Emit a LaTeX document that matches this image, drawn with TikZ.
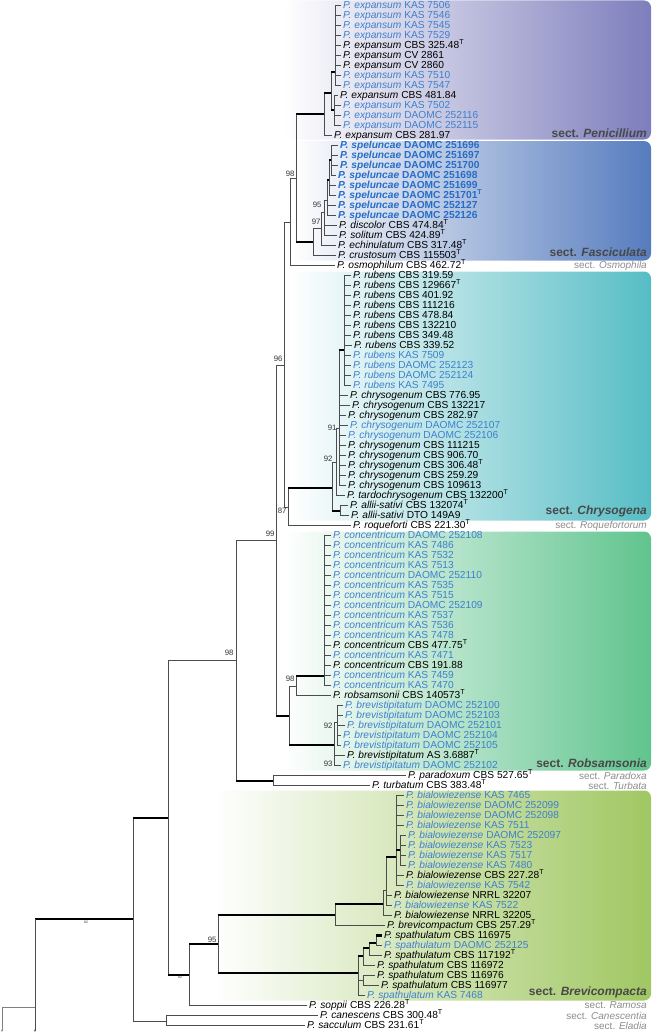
\documentclass[tikz,border=0pt]{standalone}
\usepackage{fontspec}
\setmainfont{Liberation Sans}
\usetikzlibrary{arrows.meta, calc}
\definecolor{isoblue}{RGB}{62,128,206}
\definecolor{spelblue}{RGB}{38,108,200}
\definecolor{sectgray}{RGB}{140,140,140}
\definecolor{secttext}{RGB}{72,72,72}
\definecolor{penicol}{RGB}{125,126,188}
\definecolor{fascol}{RGB}{86,124,190}
\definecolor{chrycol}{RGB}{86,189,197}
\definecolor{robcol}{RGB}{96,196,142}
\definecolor{brevcol}{RGB}{160,199,98}
\newcommand\T{\textsuperscript{T}}
\tikzset{
  every picture/.style={line join=round},
  taxon/.style={anchor=west, inner xsep=2pt, inner ysep=0pt, text height=7.4pt, text depth=1.6pt,
    font=\fontsize{10.2}{12}\selectfont},
  refstrain/.style={taxon, black},
  isolate/.style={taxon, isoblue},
  boldisolate/.style={taxon, spelblue, font=\fontsize{10.2}{12}\selectfont\bfseries},
  thinbr/.style={line width=0.8pt, black!70},
  thickbr/.style={line width=2.4pt, black},
  vline/.style={line width=0.8pt, black!70},
  supp/.style={anchor=east, inner sep=0.3pt, font=\fontsize{7.8}{9}\selectfont, black!80},
  tinysupp/.style={inner sep=0pt, font=\fontsize{3.5}{4}\selectfont, black!80},
  sectbox/.style={rounded corners=7pt, left color=white, right color=#1},
  sectname/.style={anchor=east, inner sep=0pt, font=\fontsize{12}{14}\selectfont\bfseries, secttext},
  sectminor/.style={anchor=east, inner sep=0pt, font=\fontsize{10}{12}\selectfont, sectgray},
}
% vertical part of the parent, then the horizontal branch to the child
\newcommand\drawbranch[3][thinbr]{%
  \draw[vline] (#2) -- (#2|-#3);
  \draw[#1] (#2|-#3) -- (#3);}

\begin{document}
\begin{tikzpicture}[x=1pt, y=-1pt]
  \useasboundingbox (0,0) rectangle (654,1033);
  % section backgrounds
  \shade[sectbox=penicol] (284,0.5) rectangle (651,139.5);
  \shade[sectbox=fascol] (292,141) rectangle (651,260.5);
  \shade[sectbox=chrycol] (290,271.5) rectangle (651,520.5);
  \shade[sectbox=robcol] (283,531.5) rectangle (651,770.5);
  \shade[sectbox=brevcol] (213,790.5) rectangle (651,1000.5);

  % taxa, one row every 10 units
  \foreach \k/\x/\st/\acc in {0/343/isolate/KAS 7506, 1/343/isolate/KAS 7546, 2/343/isolate/KAS 7545,
      3/343/isolate/KAS 7529, 4/343/refstrain/CBS 325.48\T, 5/343/refstrain/CV 2861,
      6/343/refstrain/CV 2860, 7/343/isolate/KAS 7510, 8/343/isolate/KAS 7547,
      9/340/refstrain/CBS 481.84, 10/343/isolate/KAS 7502, 11/343/isolate/DAOMC 252116,
      12/343/isolate/DAOMC 252115, 13/334/refstrain/CBS 281.97}
    \node[\st] (t\k) at (\x-2, 5.5+10*\k) {\textit{P. expansum} \acc};
  \foreach \k/\x/\st/\sp/\acc in {14/340/boldisolate/speluncae/DAOMC 251696,
      15/340/boldisolate/speluncae/DAOMC 251697, 16/340/boldisolate/speluncae/DAOMC 251700,
      17/338/boldisolate/speluncae/DAOMC 251698, 18/338/boldisolate/speluncae/DAOMC 251699,
      19/338/boldisolate/speluncae/DAOMC 251701\T, 20/338/boldisolate/speluncae/DAOMC 252127,
      21/338/boldisolate/speluncae/DAOMC 252126, 22/339/refstrain/discolor/CBS 474.84\T,
      23/339/refstrain/solitum/CBS 424.89\T, 24/338/refstrain/echinulatum/CBS 317.48\T,
      25/338/refstrain/crustosum/CBS 115503\T, 26/337/refstrain/osmophilum/CBS 462.72\T}
    \node[\st] (t\k) at (\x-2, 5.5+10*\k) {\textit{P. \sp} \acc};
  \foreach \k/\x/\st/\sp/\acc in {27/353/refstrain/rubens/CBS 319.59,
      28/353/refstrain/rubens/CBS 129667\T, 29/353/refstrain/rubens/CBS 401.92,
      30/353/refstrain/rubens/CBS 111216, 31/353/refstrain/rubens/CBS 478.84,
      32/353/refstrain/rubens/CBS 132210, 33/353/refstrain/rubens/CBS 349.48,
      34/354/refstrain/rubens/CBS 339.52, 35/353/isolate/rubens/KAS 7509,
      36/353/isolate/rubens/DAOMC 252123, 37/353/isolate/rubens/DAOMC 252124,
      38/353/isolate/rubens/KAS 7495, 39/350/refstrain/chrysogenum/CBS 776.95,
      40/352/refstrain/chrysogenum/CBS 132217, 41/348/refstrain/chrysogenum/CBS 282.97,
      42/350/isolate/chrysogenum/DAOMC 252107, 43/348/isolate/chrysogenum/DAOMC 252106,
      44/348/refstrain/chrysogenum/CBS 111215, 45/348/refstrain/chrysogenum/CBS 906.70,
      46/348/refstrain/chrysogenum/CBS 306.48\T, 47/348/refstrain/chrysogenum/CBS 259.29,
      48/348/refstrain/chrysogenum/CBS 109613, 49/347/refstrain/tardochrysogenum/CBS 132200\T,
      50/350/refstrain/allii-sativi/CBS 132074\T, 51/351/refstrain/allii-sativi/DTO 149A9,
      52/353/refstrain/roqueforti/CBS 221.30\T}
    \node[\st] (t\k) at (\x-2, 5.5+10*\k) {\textit{P. \sp} \acc};
  \foreach \k/\x/\st/\sp/\acc in {53/333/isolate/concentricum/DAOMC 252108,
      54/333/isolate/concentricum/KAS 7486, 55/333/isolate/concentricum/KAS 7532,
      56/333/isolate/concentricum/KAS 7513, 57/333/isolate/concentricum/DAOMC 252110,
      58/333/isolate/concentricum/KAS 7535, 59/333/isolate/concentricum/KAS 7515,
      60/333/isolate/concentricum/DAOMC 252109, 61/333/isolate/concentricum/KAS 7537,
      62/333/isolate/concentricum/KAS 7536, 63/333/isolate/concentricum/KAS 7478,
      64/333/refstrain/concentricum/CBS 477.75\T, 65/333/isolate/concentricum/KAS 7471,
      66/333/refstrain/concentricum/CBS 191.88, 67/333/isolate/concentricum/KAS 7459,
      68/333/isolate/concentricum/KAS 7470, 69/333/refstrain/robsamsonii/CBS 140573\T,
      70/345/isolate/brevistipitatum/DAOMC 252100, 71/345/isolate/brevistipitatum/DAOMC 252103,
      72/347/isolate/brevistipitatum/DAOMC 252101, 73/343/isolate/brevistipitatum/DAOMC 252104,
      74/343/isolate/brevistipitatum/DAOMC 252105, 75/347/refstrain/brevistipitatum/AS 3.6887\T,
      76/343/isolate/brevistipitatum/DAOMC 252102, 77/408/refstrain/paradoxum/CBS 527.65\T,
      78/372/refstrain/turbatum/CBS 383.48\T}
    \node[\st] (t\k) at (\x-2, 5.5+10*\k) {\textit{P. \sp} \acc};
  \foreach \k/\x/\st/\sp/\acc in {79/406/isolate/bialowiezense/KAS 7465,
      80/406/isolate/bialowiezense/DAOMC 252099, 81/406/isolate/bialowiezense/DAOMC 252098,
      82/406/isolate/bialowiezense/KAS 7511, 83/408/isolate/bialowiezense/DAOMC 252097,
      84/408/isolate/bialowiezense/KAS 7523, 85/408/isolate/bialowiezense/KAS 7517,
      86/408/isolate/bialowiezense/KAS 7480, 87/406/refstrain/bialowiezense/CBS 227.28\T,
      88/406/isolate/bialowiezense/KAS 7542, 89/394/refstrain/bialowiezense/NRRL 32207,
      90/394/isolate/bialowiezense/KAS 7522, 91/394/refstrain/bialowiezense/NRRL 32205,
      92/387/refstrain/brevicompactum/CBS 257.29\T, 93/384/refstrain/spathulatum/CBS 116975,
      94/384/isolate/spathulatum/DAOMC 252125, 95/384/refstrain/spathulatum/CBS 117192\T,
      96/377/refstrain/spathulatum/CBS 116972, 97/377/refstrain/spathulatum/CBS 116976,
      98/381/refstrain/spathulatum/CBS 116977, 99/367/isolate/spathulatum/KAS 7468,
      100/309/refstrain/soppii/CBS 226.28\T, 101/320/refstrain/canescens/CBS 300.48\T,
      102/307/refstrain/sacculum/CBS 231.61\T}
    \node[\st] (t\k) at (\x-2, 5.5+10*\k) {\textit{P. \sp} \acc};

  % internal nodes (x, stem height)
  \coordinate (penA) at (335,72);  \coordinate (penB) at (334,110);
  \coordinate (penC) at (331,93);  \coordinate (penD) at (324,114);
  \coordinate (sp1) at (331,160);  \coordinate (sp2) at (329,180);
  \coordinate (sp3) at (327,200);  \coordinate (fas3) at (324,212);
  \coordinate (fas2) at (321,228); \coordinate (fas1) at (313,242);
  \coordinate (nB) at (296,178);   \coordinate (nA) at (290,222);
  \coordinate (nC) at (284,365);   \coordinate (nF) at (288,507);
  \coordinate (rub) at (344,350);  \coordinate (ch2) at (339,428);
  \coordinate (ch1) at (336,462);  \coordinate (alli) at (340,511);
  \coordinate (ch0) at (332,488);
  \coordinate (con) at (324,676);  \coordinate (rb2) at (296,686);
  \coordinate (br1) at (337,722);  \coordinate (br0) at (334,745);
  \coordinate (rb1) at (289,716);  \coordinate (nD) at (276,540);
  \coordinate (par) at (273,781);  \coordinate (nE) at (236,660);
  \coordinate (bi1) at (400,850);  \coordinate (bi0) at (396,857);
  \coordinate (bi2) at (386,890);  \coordinate (bi3) at (383,904);
  \coordinate (bc) at (335,915);
  \coordinate (s3) at (376,943);   \coordinate (s2) at (369,948);
  \coordinate (s1) at (363,956);   \coordinate (s4) at (363,980);
  \coordinate (s0) at (358,973);
  \coordinate (b95) at (218,944);  \coordinate (b0) at (189,975);
  \coordinate (nG) at (168,818);   \coordinate (cs) at (166,1021);
  \coordinate (nH) at (133,919);   \coordinate (root) at (35,919);
  \coordinate (rootend) at (35,1032);
  \coordinate (og) at (35,1007);   \coordinate (ogend) at (2,1032);

  % sect. Penicillium
  \foreach \k in {0,...,8} {\drawbranch{penA}{t\k}}
  \foreach \k in {9,...,12} {\drawbranch{penB}{t\k}}
  \drawbranch[thickbr]{penC}{penA} \drawbranch[thickbr]{penC}{penB}
  \drawbranch[thickbr]{penD}{penC} \drawbranch{penD}{t13}
  % sect. Fasciculata and Osmophila
  \foreach \k in {14,...,17} {\drawbranch{sp1}{t\k}}
  \drawbranch[thickbr]{sp2}{sp1} \drawbranch{sp2}{t18} \drawbranch{sp2}{t19}
  \drawbranch[thickbr]{sp3}{sp2} \drawbranch{sp3}{t20} \drawbranch{sp3}{t21}
  \drawbranch{fas3}{sp3} \drawbranch{fas3}{t22} \drawbranch{fas3}{t23}
  \drawbranch{fas2}{fas3} \drawbranch{fas2}{t24}
  \drawbranch{fas1}{fas2} \drawbranch{fas1}{t25}
  \drawbranch[thickbr]{nB}{penD} \drawbranch[thickbr]{nB}{fas1}
  \drawbranch{nA}{nB} \drawbranch{nA}{t26}
  % sect. Chrysogena and Roquefortorum
  \foreach \k in {27,...,38} {\drawbranch{rub}{t\k}}
  \drawbranch[thickbr]{ch2}{rub}
  \foreach \k in {39,...,48} {\drawbranch{ch2}{t\k}}
  \drawbranch{ch1}{ch2} \drawbranch{ch1}{t49}
  \drawbranch{alli}{t50} \drawbranch{alli}{t51}
  \drawbranch{ch0}{ch1} \drawbranch[thickbr]{ch0}{alli}
  \drawbranch[thickbr]{nF}{ch0} \drawbranch{nF}{t52}
  \drawbranch{nC}{nA} \drawbranch{nC}{nF}
  % sect. Robsamsonia
  \foreach \k in {53,...,68} {\drawbranch{con}{t\k}}
  \drawbranch[thickbr]{rb2}{con} \drawbranch{rb2}{t69}
  \foreach \k in {70,...,74} {\drawbranch{br1}{t\k}}
  \drawbranch{br0}{br1} \drawbranch{br0}{t75} \drawbranch{br0}{t76}
  \drawbranch{rb1}{rb2} \drawbranch[thickbr]{rb1}{br0}
  \drawbranch{nD}{nC} \drawbranch[thickbr]{nD}{rb1}
  % sect. Paradoxa and Turbata
  \drawbranch{par}{t77} \drawbranch{par}{t78}
  \drawbranch{nE}{nD} \drawbranch[thickbr]{nE}{par}
  % sect. Brevicompacta
  \foreach \k in {83,...,86} {\drawbranch{bi1}{t\k}}
  \foreach \k in {79,...,82,87,88} {\drawbranch{bi0}{t\k}}
  \drawbranch[thickbr]{bi0}{bi1}
  \drawbranch[thickbr]{bi2}{bi0} \drawbranch{bi2}{t89} \drawbranch{bi2}{t90}
  \drawbranch{bi3}{bi2} \drawbranch{bi3}{t91}
  \drawbranch[thickbr]{bc}{bi3} \drawbranch{bc}{t92}
  \drawbranch[thickbr]{s3}{t93} \drawbranch{s3}{t94}
  \drawbranch[thickbr]{s2}{s3} \drawbranch{s2}{t95}
  \drawbranch[thickbr]{s1}{s2} \drawbranch{s1}{t96}
  \drawbranch{s4}{t97} \drawbranch{s4}{t98}
  \drawbranch[thickbr]{s0}{s1} \drawbranch{s0}{s4} \drawbranch{s0}{t99}
  \drawbranch[thickbr]{b95}{bc} \drawbranch[thickbr]{b95}{s0}
  \drawbranch[thickbr]{b0}{b95} \drawbranch{b0}{t100}
  % backbone and outgroups
  \drawbranch{nG}{nE} \drawbranch[thickbr]{nG}{b0}
  \drawbranch{cs}{t101} \drawbranch{cs}{t102}
  \drawbranch[thickbr]{nH}{nG} \drawbranch{nH}{cs}
  \draw[thickbr] (root) -- (nH);
  \draw[vline, -{Stealth[length=2.5pt, width=2pt]}] (root) -- (rootend);
  \draw[vline, gray, -{Stealth[length=2.5pt, width=2pt]}] (og) -| (ogend);

  % bootstrap values
  \node[supp] (bs1) at (295,174) {98};
  \node[supp] (bs2) at (322,205) {95};
  \node[supp] (bs3) at (321,222) {97};
  \node[supp] (bs4) at (283,359) {96};
  \node[supp] (bs5) at (337,428) {91};
  \node[supp] (bs6) at (333,459) {92};
  \node[supp] (bs7) at (287,511) {87};
  \node[supp] (bs8) at (275,534) {99};
  \node[supp] (bs9) at (295,679) {98};
  \node[supp] (bs10) at (333,726) {92};
  \node[supp] (bs11) at (333,764) {93};
  \node[supp] (bs12) at (234,653) {98};
  \node[supp] (bs13) at (217,940) {95};
  \node[tinysupp] (bs14) at (86,922) {82};
  \node[tinysupp] (bs15) at (180,977) {82};

  % section names
  \node[sectname] (secPen) at (647,133) {sect. \textit{Penicillium}};
  \node[sectname] (secFas) at (647,252) {sect. \textit{Fasciculata}};
  \node[sectname] (secChr) at (647,511) {sect. \textit{Chrysogena}};
  \node[sectname] (secRob) at (647,763) {sect. \textit{Robsamsonia}};
  \node[sectname] (secBre) at (647,992) {sect. \textit{Brevicompacta}};
  \foreach \k/\sect in {26/Osmophila, 52/Roquefortorum, 77/Paradoxa, 78/Turbata,
      100/Ramosa, 101/Canescentia, 102/Eladia}
    \node[sectminor] (sec\k) at (647, 5.5+10*\k) {sect. \textit{\sect}};
\end{tikzpicture}
\end{document}
